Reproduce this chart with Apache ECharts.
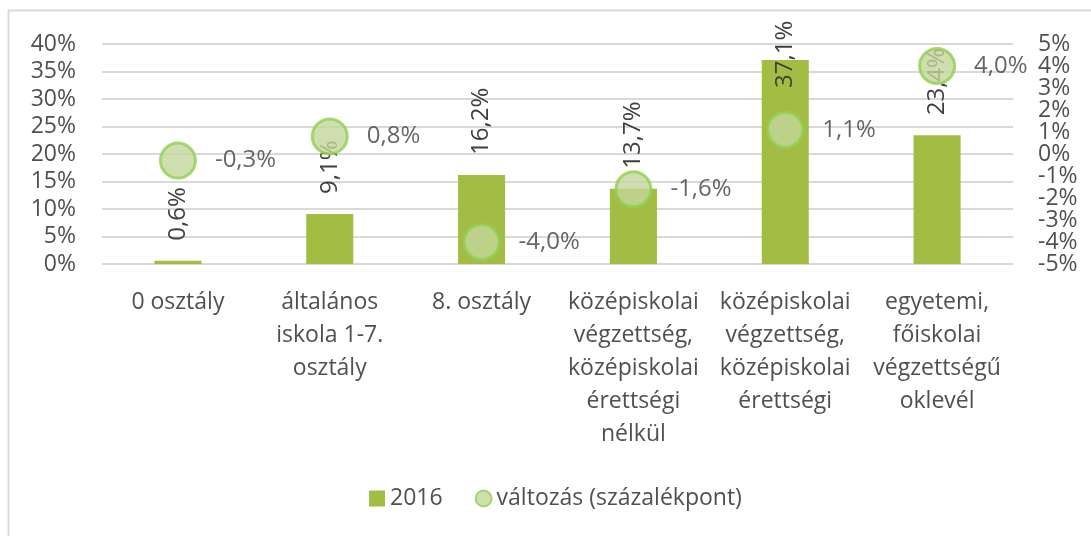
<!DOCTYPE html>
<html>
<head>
<meta charset="utf-8">
<script src="https://cdn.jsdelivr.net/npm/echarts@6/dist/echarts.min.js"></script>
<style>
html,body{margin:0;padding:0;background:#fff;}
#c{width:1091px;height:536px;}
</style>
</head>
<body>
<div id="c"></div>
<script>
const categories = [
  "0 osztály",
  "általános\niskola 1-7.\nosztály",
  "8. osztály",
  "középiskolai\nvégzettség,\nközépiskolai\nérettségi\nnélkül",
  "középiskolai\nvégzettség,\nközépiskolai\nérettségi",
  "egyetemi,\nfőiskolai\nvégzettségű\noklevél"
];
const values2016 = [0.6, 9.1, 16.2, 13.7, 37.1, 23.4];
const changes = [-0.3, 0.8, -4.0, -1.6, 1.1, 4.0];
const leftTicks = {min: 0, max: 40, interval: 5};
const rightTicks = {min: -5, max: 5, interval: 1};

const FONT = "Open Sans";
const TXT = "#505050";
const fmt = v => v.toFixed(1).replace('.', ',') + '%';

// right-hand axis drawn as two overlaid axes (odd / even labels) so that
// the tightly packed labels are not dropped by overlap detection
function rightAxis(showOdd) {
  return {
    type: 'value', position: 'right',
    min: rightTicks.min, max: rightTicks.max, interval: rightTicks.interval,
    axisLine: {show: false}, axisTick: {show: false},
    splitLine: {show: false},
    axisLabel: {
      fontFamily: FONT, fontSize: 23, color: TXT, margin: 25,
      showMinLabel: true, showMaxLabel: true,
      formatter: v => ((Math.abs(v) % 2 === 1) === showOdd ? v + '%' : '')
    }
  };
}

const chart = echarts.init(document.getElementById('c'));
chart.setOption({
  animation: false,
  textStyle: {fontFamily: FONT},
  graphic: [
    {type: 'line', shape: {x1: 8.5, y1: 10, x2: 8.5, y2: 536}, style: {stroke: '#d9d9d9', lineWidth: 2}},
    {type: 'line', shape: {x1: 8, y1: 10.5, x2: 1091, y2: 10.5}, style: {stroke: '#d9d9d9', lineWidth: 2}}
  ],
  grid: {left: 102, right: 78, top: 44, bottom: 272},
  legend: {
    top: 482,
    left: 364,
    itemGap: 32,
    itemWidth: 16,
    itemHeight: 16,
    textStyle: {fontFamily: FONT, fontSize: 23, color: TXT},
    data: [
      {name: '2016', icon: 'rect'},
      {name: 'változás (százalékpont)', icon: 'circle'}
    ]
  },
  xAxis: {
    type: 'category',
    data: categories,
    axisLine: {show: false},
    axisTick: {show: false},
    axisLabel: {fontFamily: FONT, fontSize: 23, color: TXT, lineHeight: 33, margin: 22, interval: 0}
  },
  yAxis: [
    {
      type: 'value', position: 'left',
      min: leftTicks.min, max: leftTicks.max, interval: leftTicks.interval,
      axisLine: {show: false}, axisTick: {show: false},
      splitLine: {lineStyle: {color: '#d9d9d9', width: 2}},
      axisLabel: {fontFamily: FONT, fontSize: 23, color: TXT, margin: 26, formatter: v => v + '%'}
    },
    rightAxis(true),
    rightAxis(false)
  ],
  series: [
    {
      name: '2016',
      type: 'bar',
      yAxisIndex: 0,
      barWidth: '31%',
      itemStyle: {color: '#a3bd44'},
      data: values2016.map(v => {
        const o = {value: v};
        if (v > 33) o.label = {distance: -28};
        return o;
      }),
      label: {
        show: true, position: 'top', distance: 20, rotate: 90,
        align: 'left', verticalAlign: 'middle',
        fontFamily: FONT, fontSize: 24, color: '#404040',
        formatter: p => fmt(p.value)
      },
      z: 2
    },
    {
      name: 'változás (százalékpont)',
      type: 'scatter',
      yAxisIndex: 1,
      symbol: 'circle',
      symbolSize: 35,
      itemStyle: {color: '#c3d69b', borderColor: '#92d050', borderWidth: 3},
      data: changes,
      label: {
        show: true, position: 'right', distance: 18,
        fontFamily: FONT, fontSize: 24, color: '#404040',
        formatter: p => fmt(p.value)
      },
      z: 3
    }
  ]
});
</script>
</body>
</html>
